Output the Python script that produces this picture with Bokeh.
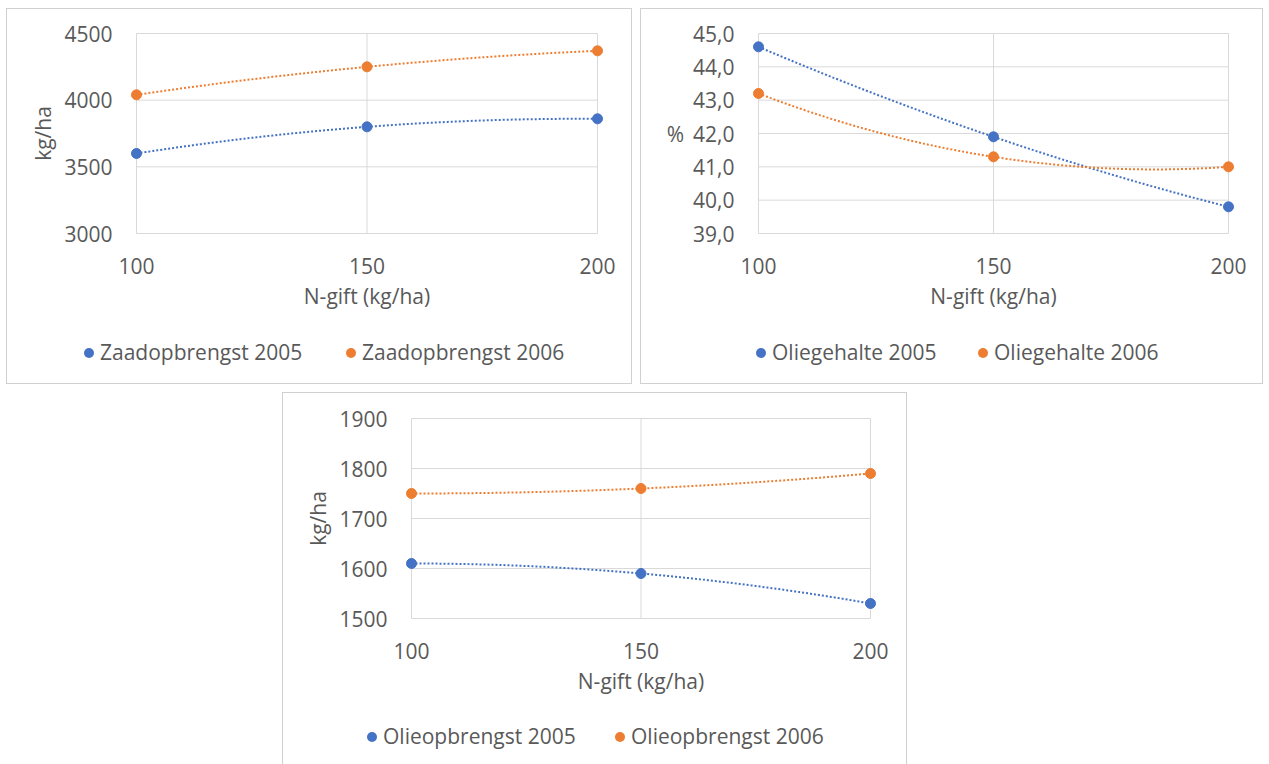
import numpy as np
from bokeh.plotting import figure
from bokeh.models import Range1d, FixedTicker, CustomJSTickFormatter, Spacer, Div
from bokeh.layouts import row, column
from bokeh.embed import file_html
from bokeh.resources import INLINE

# ---------------- data ----------------
n_gift = [100, 150, 200]

zaad_2005 = [3600, 3800, 3860]
zaad_2006 = [4040, 4250, 4370]

oliegehalte_2005 = [44.6, 41.9, 39.8]
oliegehalte_2006 = [43.2, 41.3, 41.0]

olieopbrengst_2005 = [1610, 1590, 1530]
olieopbrengst_2006 = [1750, 1760, 1790]

x_ticks = [100, 150, 200]
y_ticks_zaad = [3000, 3500, 4000, 4500]
y_ticks_gehalte = [39.0, 40.0, 41.0, 42.0, 43.0, 44.0, 45.0]
y_ticks_olie = [1500, 1600, 1700, 1800, 1900]

x_title = "N-gift (kg/ha)"

# ---------------- style ----------------
BLUE = "#4472C4"
ORANGE = "#ED7D31"
TEXT = "#595959"
GRID = "#d9d9d9"
BORDER = "1px solid #d0d0d0"
FONT = "Open Sans"
FS = "21px"
PAD = 6
MAIN_H = 316


def make_chart(W, H, fx0, fx1, fy0, fy1, yticks, ylabel, series, names,
               legend_px, ylabel_horizontal=False, comma=False, bottom_border=True):
    # fx0/fx1/fy0/fy1: pixel positions of the data extents inside the panel
    Hm = MAIN_H
    xu = (x_ticks[-1] - x_ticks[0]) / (fx1 - fx0)
    yu = (yticks[-1] - yticks[0]) / (fy1 - fy0)
    p = figure(width=W, height=Hm, output_backend="svg", toolbar_location=None,
               x_range=Range1d(x_ticks[0] - PAD * xu, x_ticks[-1] + PAD * xu),
               y_range=Range1d(yticks[0] - PAD * yu, yticks[-1] + PAD * yu),
               min_border_left=fx0 - PAD, min_border_right=W - fx1 - PAD,
               min_border_top=fy0 - PAD, min_border_bottom=Hm - fy1 - PAD)
    p.outline_line_color = None
    p.xgrid.grid_line_color = None
    p.ygrid.grid_line_color = None

    # grid lines from the tick arrays
    p.segment(x0=x_ticks, x1=x_ticks, y0=[yticks[0]] * len(x_ticks), y1=[yticks[-1]] * len(x_ticks),
              line_color=GRID, line_width=1)
    p.segment(x0=[x_ticks[0]] * len(yticks), x1=[x_ticks[-1]] * len(yticks), y0=yticks, y1=yticks,
              line_color=GRID, line_width=1)

    for ax in (p.xaxis, p.yaxis):
        ax.axis_line_color = None
        ax.major_tick_line_color = None
        ax.minor_tick_line_color = None
        ax.major_label_text_font = FONT
        ax.major_label_text_font_size = FS
        ax.major_label_text_color = TEXT
        ax.axis_label_text_font = FONT
        ax.axis_label_text_font_size = FS
        ax.axis_label_text_color = TEXT
        ax.axis_label_text_font_style = "normal"

    p.xaxis.ticker = FixedTicker(ticks=x_ticks)
    p.xaxis.major_label_standoff = 12
    p.xaxis.axis_label = x_title
    p.xaxis.axis_label_standoff = 5

    p.yaxis.ticker = FixedTicker(ticks=yticks)
    p.yaxis.major_label_standoff = 12
    p.yaxis.axis_label = ylabel
    if ylabel_horizontal:
        p.yaxis.axis_label_orientation = "horizontal"
        p.yaxis.axis_label_standoff = 6
    else:
        p.yaxis.axis_label_standoff = 4
    if comma:
        p.yaxis.formatter = CustomJSTickFormatter(code="return tick.toFixed(1).replace('.', ',');")

    colors = [BLUE, ORANGE]
    xs = np.linspace(x_ticks[0], x_ticks[-1], 201)
    for vals, c in zip(series, colors):
        coef = np.polyfit(n_gift, vals, 2)   # Excel-style polynomial trendline
        p.line(xs, np.polyval(coef, xs), line_color=c, line_width=2, line_dash="2 2")
        p.scatter(n_gift, vals, size=10, color=c)

    # legend strip below the chart
    LH = H - Hm
    cy = 29
    parts = []
    for c, name, mx in zip(colors, names, legend_px):
        parts.append(
            f'<span style="position:absolute;left:{mx - 5}px;top:{cy - 5}px;width:10px;height:10px;'
            f'border-radius:50%;background:{c};"></span>')
        parts.append(
            f'<span style="position:absolute;left:{mx + 11}px;top:{cy}px;transform:translateY(-50%);'
            f'white-space:nowrap;line-height:1.2;">{name}</span>')
    html = (f'<div style="position:relative;width:{W - 2}px;height:{LH - 1}px;'
            f"font-family:'{FONT}';font-size:{FS};color:{TEXT};\">" + "".join(parts) + "</div>")
    ls = {"border-left": BORDER, "border-right": BORDER, "box-sizing": "border-box",
          "overflow": "hidden", "margin": "0", "padding": "0"}
    if bottom_border:
        ls["border-bottom"] = BORDER
    leg = Div(text=html, width=W, height=LH, styles=ls)

    p.styles = {"border-top": BORDER, "border-left": BORDER, "border-right": BORDER,
                "box-sizing": "border-box"}
    return column(p, leg, spacing=0)


c1 = make_chart(626, 376, 129, 590, 24, 224, y_ticks_zaad, "kg/ha",
                [zaad_2005, zaad_2006], ["Zaadopbrengst 2005", "Zaadopbrengst 2006"],
                [82, 344])
c2 = make_chart(623, 376, 117, 587, 24, 224, y_ticks_gehalte, "%",
                [oliegehalte_2005, oliegehalte_2006], ["Oliegehalte 2005", "Oliegehalte 2006"],
                [120, 342], ylabel_horizontal=True, comma=True)
c3 = make_chart(625, 372, 128, 587, 25, 225, y_ticks_olie, "kg/ha",
                [olieopbrengst_2005, olieopbrengst_2006], ["Olieopbrengst 2005", "Olieopbrengst 2006"],
                [89, 337], bottom_border=False)

layout = column(Spacer(width=10, height=8),
                row(Spacer(width=6, height=10), c1, Spacer(width=8, height=10), c2, spacing=0),
                Spacer(width=10, height=8),
                row(Spacer(width=282, height=10), c3, spacing=0),
                spacing=0)

open("out.html", "w").write(file_html(layout, INLINE))
